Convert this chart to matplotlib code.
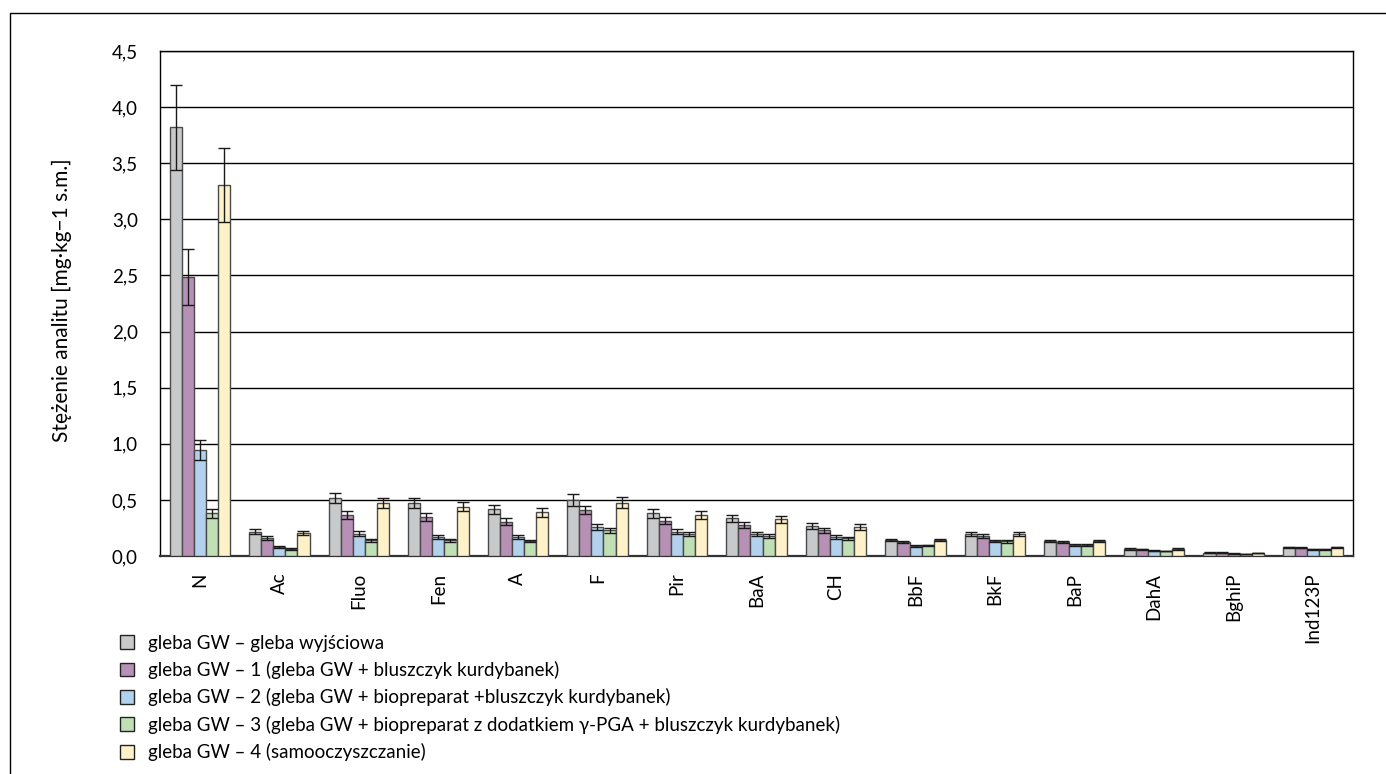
import matplotlib
matplotlib.use("Agg")
import matplotlib.pyplot as plt
import numpy as np
from matplotlib.patches import Patch, Rectangle
from matplotlib.ticker import FuncFormatter, MultipleLocator

plt.rcParams['font.family'] = ['Lato', 'DejaVu Sans']

categories = ["N", "Ac", "Fluo", "Fen", "A", "F", "Pir", "BaA", "CH",
              "BbF", "BkF", "BaP", "DahA", "BghiP", "Ind123P"]

series_labels = [
    "gleba GW – gleba wyjściowa",
    "gleba GW – 1 (gleba GW + bluszczyk kurdybanek)",
    "gleba GW – 2 (gleba GW + biopreparat +bluszczyk kurdybanek)",
    "gleba GW – 3 (gleba GW + biopreparat z dodatkiem γ-PGA + bluszczyk kurdybanek)",
    "gleba GW – 4 (samooczyszczanie)",
]

gw0 = [3.82, 0.215, 0.52, 0.47, 0.415, 0.50, 0.38, 0.335, 0.267, 0.143, 0.195, 0.137, 0.062, 0.030, 0.077]
gw1 = [2.49, 0.160, 0.365, 0.35, 0.305, 0.41, 0.315, 0.275, 0.230, 0.128, 0.178, 0.125, 0.060, 0.030, 0.074]
gw2 = [0.945, 0.083, 0.20, 0.17, 0.17, 0.26, 0.217, 0.200, 0.170, 0.090, 0.134, 0.095, 0.047, 0.022, 0.060]
gw3 = [0.38, 0.062, 0.14, 0.14, 0.134, 0.23, 0.193, 0.178, 0.157, 0.095, 0.130, 0.095, 0.045, 0.020, 0.058]
gw4 = [3.31, 0.205, 0.475, 0.44, 0.39, 0.475, 0.365, 0.327, 0.260, 0.143, 0.196, 0.137, 0.062, 0.028, 0.077]

err0 = [0.38, 0.022, 0.045, 0.045, 0.042, 0.05, 0.038, 0.033, 0.027, 0.012, 0.018, 0.010, 0.005, 0.003, 0.006]
err1 = [0.25, 0.016, 0.035, 0.035, 0.032, 0.04, 0.030, 0.027, 0.022, 0.010, 0.016, 0.010, 0.005, 0.003, 0.006]
err2 = [0.09, 0.008, 0.020, 0.017, 0.016, 0.026, 0.020, 0.018, 0.016, 0.007, 0.012, 0.008, 0.004, 0.002, 0.005]
err3 = [0.04, 0.006, 0.014, 0.013, 0.013, 0.022, 0.018, 0.016, 0.014, 0.007, 0.011, 0.008, 0.004, 0.002, 0.005]
err4 = [0.33, 0.020, 0.045, 0.042, 0.040, 0.047, 0.036, 0.032, 0.026, 0.012, 0.018, 0.010, 0.005, 0.003, 0.006]

values = [gw0, gw1, gw2, gw3, gw4]
errors = [err0, err1, err2, err3, err4]
colors = ["#C8C9CB", "#B690B5", "#B2D1EC", "#C0DFB4", "#FFF1C8"]

fig = plt.figure(figsize=(13.86, 7.74), dpi=100)
ax = fig.add_axes([160/1386, 1-556/774, (1353-160)/1386, (556-51)/774])

x = np.arange(len(categories))
bw = 0.152
for i, (vals, errs, col) in enumerate(zip(values, errors, colors)):
    pos = x + (i - 2) * bw
    ax.bar(pos, vals, width=bw, color=col, edgecolor="#4a4a4a", linewidth=1.0, zorder=3)
    ax.errorbar(pos, vals, yerr=errs, fmt="none", ecolor="#1a1a1a",
                elinewidth=1.0, capsize=4.5, capthick=1.0, zorder=4)

ax.set_xlim(-0.5, len(categories) - 0.5)
ax.set_ylim(0, 4.5)
ax.yaxis.set_major_locator(MultipleLocator(0.5))
ax.yaxis.set_major_formatter(FuncFormatter(lambda v, p: f"{v:.1f}".replace(".", ",")))
ax.grid(axis="y", color="black", linewidth=1.0, zorder=0)
ax.set_axisbelow(True)
ax.set_xticks(x)
ax.set_xticklabels(categories, rotation=90)
ax.tick_params(axis="both", length=0, labelsize=13.5)
ax.tick_params(axis="y", pad=16)
ax.tick_params(axis="x", pad=12)
for sp in ax.spines.values():
    sp.set_color("black")
    sp.set_linewidth(1.0)
ax.spines["bottom"].set_linewidth(1.6)
ax.spines["bottom"].set_color("#333333")

fig.text(62/1386, 1-300/774, "Stężenie analitu [mg·kg−1 s.m.]", rotation=90,
         ha="center", va="center", fontsize=15)

handles = [Patch(facecolor=c, edgecolor="#222222", linewidth=1.0) for c in colors]
fig.legend(handles, series_labels, loc="upper left", bbox_to_anchor=(112/1386, 1-627/774),
           frameon=False, fontsize=13.5, handlelength=0.75, handleheight=0.75,
           handletextpad=0.75, labelspacing=0.5, borderaxespad=0)

# outer frame of the figure
fig.patches.append(Rectangle((10/1386, -0.01), 1.0, 1-13/774 + 0.01, transform=fig.transFigure,
                             fill=False, edgecolor="black", linewidth=1.0))

fig.savefig("out.png", dpi=100)
